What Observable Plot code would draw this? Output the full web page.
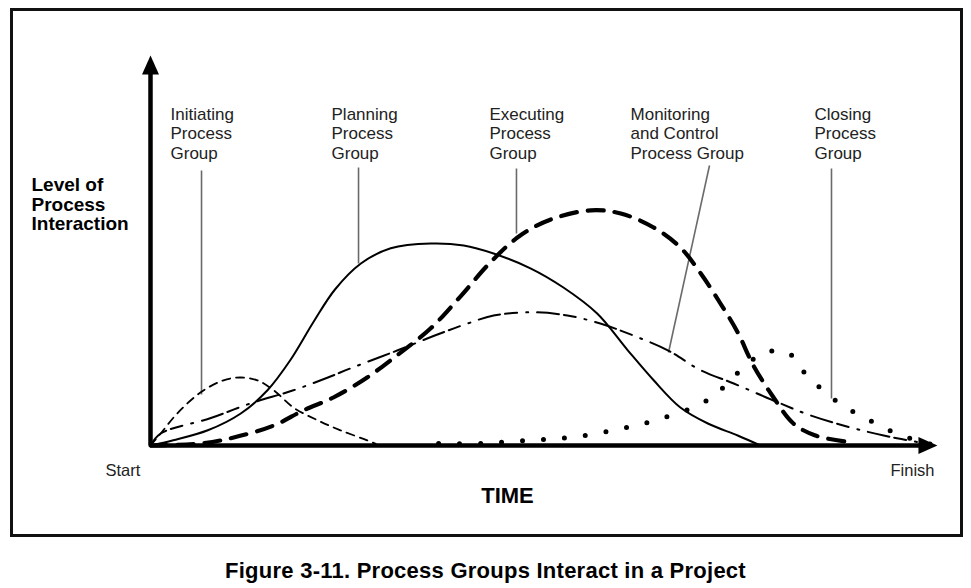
<!DOCTYPE html>
<html>
<head>
<meta charset="utf-8">
<script src="https://cdn.jsdelivr.net/npm/d3@7"></script>
<script src="https://cdn.jsdelivr.net/npm/@observablehq/plot@0.6"></script>
<style>
  html, body { margin: 0; padding: 0; background: #fff; }
  #wrap { position: relative; width: 971px; height: 588px; overflow: hidden; }
  #border { position: absolute; left: 10px; top: 8px; width: 953px; height: 529px; box-sizing: border-box; border: 3px solid #111; }
  #chart { position: absolute; left: 0; top: 0; }
  #caption { position: absolute; left: 0; top: 560px; width: 971px; text-align: center;
    font: bold 22px "Liberation Sans", Arial, sans-serif; letter-spacing: 0.25px; line-height: 22px; color: #000; }
</style>
</head>
<body>
<div id="wrap">
  <div id="border"></div>
  <div id="chart"></div>
  <div id="caption">Figure 3-11. Process Groups Interact in a Project</div>
</div>
<script>
// ---- Data (time 0..100 from Start to Finish, level 0..100) ----
const initiatingTime  = [0, 1.3, 3.4, 6.4, 9.3, 11.5, 13.6, 15.7, 18.2, 21.3, 24.2, 27.6, 28.7];
const initiatingLevel = [0, 3, 8, 13.3, 16.3, 17, 16.3, 13.8, 9.5, 6.3, 3.8, 1.3, 0.4];

const planningTime  = [0, 2.9, 7.3, 11.5, 14.9, 17.8, 20.8, 23.5, 26.8, 30.6, 35.7, 39.9, 43.7, 48.4, 52.6, 56.9, 60.8, 64.1, 67.5, 71.0, 74.8, 77.7];
const planningLevel = [0, 1.3, 3.8, 8, 13.8, 21.3, 31, 39, 45.5, 49.3, 50.5, 50, 48, 44.3, 39.5, 33, 23.8, 16.3, 9.5, 5.5, 2.5, 0];

const executingTime  = [0, 6.4, 10.6, 15.7, 19.5, 23.3, 27.6, 31.9, 35.7, 39.5, 43.3, 47.1, 51.0, 56.1, 59.9, 64.1, 67.5, 70.1, 72.6, 74.8, 76.8, 79.2, 81.9, 84.7, 89.2];
const executingLevel = [0, 0.5, 2, 5, 8.8, 12, 17, 23.3, 29.3, 37.3, 45.8, 52.5, 56.5, 58.8, 58, 54.5, 49.5, 43, 35.5, 28.3, 20, 12.5, 5.5, 2.5, 0.8];

const monitoringTime  = [0, 1.3, 7.6, 12.7, 18.2, 22.6, 25.5, 31.5, 36.9, 40.4, 43.7, 48.8, 53.1, 57.3, 61.5, 65.9, 70.1, 74.3, 79.9, 84.1, 89.2, 93.4, 98.7];
const monitoringLevel = [0, 3, 6.8, 10.5, 13.8, 17, 19.3, 23.8, 28, 30.5, 32.5, 33.3, 32.5, 30.5, 27.5, 23.8, 18.8, 15.5, 10.8, 7.5, 4.5, 2.5, 0.5];

const closingTime  = [36.7, 42.3, 48.0, 53.5, 59.0, 64.3, 69.7, 72.0, 76.1, 78.3, 81.2, 82.8, 84.7, 86.9, 89.2, 91.6, 94.1, 96.7, 100];
const closingLevel = [0.5, 0.5, 1.3, 2, 3.8, 6.3, 10, 12.8, 20.5, 23.3, 23.3, 19.3, 15.5, 11.8, 8.8, 6.3, 3.8, 1.8, 0];

const groupLabels = ["Initiating\nProcess\nGroup", "Planning\nProcess\nGroup", "Executing\nProcess\nGroup", "Monitoring\nand Control\nProcess Group", "Closing\nProcess\nGroup"];
const axisLabelY = "Level of\nProcess\nInteraction";
const axisLabelX = "TIME";
const startLabel = "Start";
const finishLabel = "Finish";

// ---- Build tables ----
const zip = (t, v) => t.map((d, i) => ({time: d, level: v[i]}));
const initiating = zip(initiatingTime, initiatingLevel);
const planning = zip(planningTime, planningLevel);
const executing = zip(executingTime, executingLevel);
const monitoring = zip(monitoringTime, monitoringLevel);
const closing = zip(closingTime, closingLevel);

// label anchors and leader lines (data coords)
const labelAnchors = [
  {text: groupLabels[0], x: 2.55, y: 84.8},
  {text: groupLabels[1], x: 23.06, y: 84.8},
  {text: groupLabels[2], x: 43.18, y: 84.8},
  {text: groupLabels[3], x: 61.15, y: 84.8},
  {text: groupLabels[4], x: 84.59, y: 84.8}
];
const leaders = [
  {x1: 6.5, y1: 68.75, x2: 6.5, y2: 12.75},
  {x1: 26.5, y1: 69.5, x2: 26.5, y2: 45.5},
  {x1: 46.62, y1: 69.25, x2: 46.62, y2: 53},
  {x1: 71.21, y1: 70, x2: 65.99, y2: 23.25},
  {x1: 86.75, y1: 69.25, x2: 86.75, y2: 11.75}
];

const arrowHead = {
  draw(ctx) {
    ctx.moveTo(0, 0);
    ctx.lineTo(-8.5, 19);
    ctx.lineTo(8.5, 19);
    ctx.closePath();
  }
};

const FONT = '"Liberation Sans", Arial, sans-serif';
const line = (data, opts) => Plot.line(data, {x: "time", y: "level", curve: "catmull-rom", stroke: "#000", fill: "none", ...opts});

const chart = Plot.plot({
  width: 971,
  height: 548,
  marginLeft: 150,
  marginRight: 36,
  marginTop: 45,
  marginBottom: 103,
  x: {domain: [0, 100], axis: null},
  y: {domain: [0, 100], axis: null},
  clip: false,
  style: {background: "transparent", overflow: "visible"},
  marks: [
    // leader lines
    Plot.link(leaders, {x1: "x1", y1: "y1", x2: "x2", y2: "y2", stroke: "#6a6a6a", strokeWidth: 1.6}),
    // curves
    line(initiating, {strokeWidth: 1.8, strokeDasharray: "8,6"}),
    line(planning, {strokeWidth: 2}),
    line(monitoring, {strokeWidth: 2, strokeDasharray: "22,5,12,9,2,9"}),
    line(executing, {strokeWidth: 4.2, strokeDasharray: "16,11"}),
    line(closing, {strokeWidth: 5, strokeDasharray: "0,21", strokeLinecap: "round"}),
    // axes with arrows
    Plot.ruleX([0], {y1: 0, y2: 93, stroke: "#000", strokeWidth: 4.5}),
    Plot.ruleY([0], {x1: 0, x2: 98, stroke: "#000", strokeWidth: 4.5}),
    Plot.dot([{x: 0, y: 97.5}], {x: "x", y: "y", symbol: arrowHead, r: 10, fill: "#000", stroke: null}),
    Plot.dot([{x: 100.25, y: 0}], {x: "x", y: "y", symbol: arrowHead, r: 10, rotate: 90, fill: "#000", stroke: null}),
    // group labels
    Plot.text(labelAnchors, {x: "x", y: "y", text: "text", textAnchor: "start", lineAnchor: "top",
      lineHeight: 1.135, fontSize: 17, fontFamily: FONT, fill: "#222"}),
    // axis labels
    Plot.text([axisLabelY], {x: -15.16, y: 67.1, text: d => d, textAnchor: "start", lineAnchor: "top",
      lineHeight: 1.03, fontSize: 19, fontWeight: "bold", fontFamily: FONT, fill: "#000"}),
    Plot.text([axisLabelX], {x: 45.48, y: -12.5, text: d => d, textAnchor: "middle", lineAnchor: "middle",
      fontSize: 22, fontWeight: "bold", fontFamily: FONT, fill: "#000"}),
    Plot.text([startLabel], {x: -5.73, y: -6.25, text: d => d, textAnchor: "start", lineAnchor: "middle",
      fontSize: 16.5, fontFamily: FONT, fill: "#222"}),
    Plot.text([finishLabel], {x: 99.87, y: -6.25, text: d => d, textAnchor: "end", lineAnchor: "middle",
      fontSize: 16.5, fontFamily: FONT, fill: "#222"})
  ]
});
document.getElementById("chart").appendChild(chart);
</script>
</body>
</html>
